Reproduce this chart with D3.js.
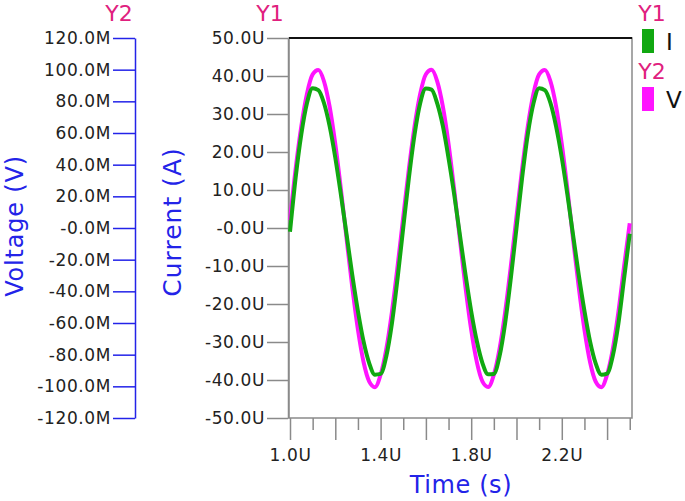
<!DOCTYPE html>
<html>
<head>
<meta charset="utf-8">
<script src="https://cdn.jsdelivr.net/npm/d3@7"></script>
<style>
body { margin: 0; background: #fff; }
svg { font-family: "DejaVu Sans", Verdana, sans-serif; }
</style>
</head>
<body>
<div id="container"></div>
<script>
"use strict";

const width = 685;
const height = 501;

// sample times, in U (micro seconds)
const sampleTimes = [
    1.000, 1.025, 1.050, 1.075, 1.100, 1.125, 1.150, 1.175, 1.200, 1.225,
    1.250, 1.275, 1.300, 1.325, 1.350, 1.375, 1.400, 1.425, 1.450, 1.475,
    1.500, 1.525, 1.550, 1.575, 1.600, 1.625, 1.650, 1.675, 1.700, 1.725,
    1.750, 1.775, 1.800, 1.825, 1.850, 1.875, 1.900, 1.925, 1.950, 1.975,
    2.000, 2.025, 2.050, 2.075, 2.100, 2.125, 2.150, 2.175, 2.200, 2.225,
    2.250, 2.275, 2.300, 2.325, 2.350, 2.375, 2.400, 2.425, 2.450, 2.475,
    2.500
];

// I (U)
const currentValues = [
    -1.0, 13.3, 24.7, 32.9, 36.8, 36.3, 32.9, 26.8, 18.5, 8.7,
    -1.8, -12.4, -21.9, -29.9, -35.6, -38.6, -38.4, -33.8, -25.1, -13.2,
    0.1, 13.2, 24.6, 32.9, 36.7, 36.4, 32.8, 26.8, 18.4, 8.8,
    -1.8, -12.3, -21.9, -29.8, -35.6, -38.5, -38.4, -33.8, -25.0, -13.2,
    0.0, 13.3, 24.7, 32.8, 36.8, 36.3, 32.9, 26.7, 18.5, 8.7,
    -1.9, -12.4, -21.8, -29.9, -35.7, -38.6, -38.3, -33.7, -25.1, -13.3,
    -1.5
];

// V (M)
const voltageValues = [
    5, 37.5, 64.3, 84.8, 97.0, 99.8, 92.7, 76.6, 53.0, 24.2,
    -7.0, -37.5, -64.3, -84.8, -97.0, -100.5, -92.7, -76.6, -53.0, -24.2,
    7.0, 37.4, 64.2, 84.8, 97.1, 99.9, 92.6, 76.6, 53.1, 24.1,
    -7.0, -37.6, -64.3, -84.7, -97.0, -100.4, -92.7, -76.5, -53.0, -24.2,
    7.1, 37.5, 64.3, 84.9, 97.0, 99.8, 92.7, 76.7, 53.0, 24.2,
    -7.1, -37.5, -64.2, -84.8, -97.1, -100.5, -92.6, -76.6, -53.1, -24.3,
    3
];

// axis ticks
const y2Ticks = [120, 100, 80, 60, 40, 20, 0, -20, -40, -60, -80, -100, -120];
const y2TickLabels = ["120.0M", "100.0M", "80.0M", "60.0M", "40.0M", "20.0M", "-0.0M",
    "-20.0M", "-40.0M", "-60.0M", "-80.0M", "-100.0M", "-120.0M"];
const y1Ticks = [50, 40, 30, 20, 10, 0, -10, -20, -30, -40, -50];
const y1TickLabels = ["50.0U", "40.0U", "30.0U", "20.0U", "10.0U", "-0.0U",
    "-10.0U", "-20.0U", "-30.0U", "-40.0U", "-50.0U"];
const xMajorTicks = [1.0, 1.2, 1.4, 1.6, 1.8, 2.0, 2.2, 2.4];
const xMajorLabels = ["1.0U", "", "1.4U", "", "1.8U", "", "2.2U", ""];
const xMinorTicks = [1.1, 1.3, 1.5, 1.7, 1.9, 2.1, 2.3, 2.5];

const legendNames = ["I", "V"];
const legendAxes = ["Y1", "Y2"];

const green = "#11a811";
const magenta = "#ff14ff";
const pink = "#e0207e";
const blue = "#2323e8";
const gray = "#8a8a8a";
const tickFont = "17px";

let svg;

function initialize() {
    svg = d3.select("#container").append("svg")
        .attr("width", width)
        .attr("height", height);

    const x = d3.scaleLinear().domain([1.0, 2.51]).range([290, 632]);
    const y1 = d3.scaleLinear().domain([-50, 50]).range([418, 38]);
    const y2 = d3.scaleLinear().domain([-120, 120]).range([418, 38]);

    // plot frame
    svg.append("rect")
        .attr("x", 289).attr("y", 38)
        .attr("width", 343).attr("height", 380)
        .style("fill", "none").style("stroke", gray).style("stroke-width", 1.5);
    svg.append("line")
        .attr("x1", 289).attr("x2", 632).attr("y1", 38).attr("y2", 38)
        .style("stroke", "#111").style("stroke-width", 2);

    // Y2 axis (voltage)
    let g2 = svg.append("g")
        .attr("transform", "translate(135,0)")
        .call(d3.axisLeft(y2).tickValues(y2Ticks)
            .tickFormat((d, i) => y2TickLabels[i])
            .tickSize(22).tickSizeOuter(0).tickPadding(2));
    styleAxis(g2, blue);

    // Y1 axis (current)
    let g1 = svg.append("g")
        .attr("transform", "translate(288,0)")
        .call(d3.axisLeft(y1).tickValues(y1Ticks)
            .tickFormat((d, i) => y1TickLabels[i])
            .tickSize(21).tickSizeOuter(0).tickPadding(2));
    styleAxis(g1, gray);

    // X axis
    let gx = svg.append("g")
        .attr("transform", "translate(0,418)")
        .call(d3.axisBottom(x).tickValues(xMajorTicks)
            .tickFormat((d, i) => xMajorLabels[i])
            .tickSize(22).tickSizeOuter(0).tickPadding(7));
    styleAxis(gx, gray);
    gx.select(".domain").remove();
    gx.selectAll("text").attr("dy", "0.85em");

    let gm = svg.append("g")
        .attr("transform", "translate(0,418)")
        .call(d3.axisBottom(x).tickValues(xMinorTicks)
            .tickFormat("").tickSize(12).tickSizeOuter(0));
    styleAxis(gm, gray);
    gm.select(".domain").remove();

    // traces, V under I
    const lineV = d3.line()
        .x((d, i) => x(sampleTimes[i]))
        .y(d => y2(d))
        .curve(d3.curveMonotoneX);
    const lineI = d3.line()
        .x((d, i) => x(sampleTimes[i]))
        .y(d => y1(d))
        .curve(d3.curveMonotoneX);

    svg.append("path")
        .datum(voltageValues)
        .attr("d", lineV)
        .style("fill", "none").style("stroke", magenta).style("stroke-width", 4);
    svg.append("path")
        .datum(currentValues)
        .attr("d", lineI)
        .style("fill", "none").style("stroke", green).style("stroke-width", 4);

    // axis headers
    svg.append("text").attr("x", 119).attr("y", 21)
        .attr("text-anchor", "middle").style("font-size", "22px").style("fill", pink).text("Y2");
    svg.append("text").attr("x", 270).attr("y", 21)
        .attr("text-anchor", "middle").style("font-size", "22px").style("fill", pink).text("Y1");

    // axis titles
    svg.append("text")
        .attr("transform", "translate(23,226) rotate(-90)")
        .attr("text-anchor", "middle")
        .style("font-size", "24px").style("letter-spacing", "0.8px").style("fill", blue)
        .text("Voltage (V)");
    svg.append("text")
        .attr("transform", "translate(181,222) rotate(-90)")
        .attr("text-anchor", "middle")
        .style("font-size", "25px").style("letter-spacing", "1px").style("fill", blue)
        .text("Current (A)");
    svg.append("text")
        .attr("x", 461).attr("y", 493)
        .attr("text-anchor", "middle")
        .style("font-size", "24px").style("letter-spacing", "0.6px").style("fill", blue)
        .text("Time (s)");

    // legend
    const legendColors = [green, magenta];
    legendNames.forEach((name, i) => {
        let top = i * 58;
        svg.append("text").attr("x", 652).attr("y", top + 21)
            .attr("text-anchor", "middle").style("font-size", "22px").style("fill", pink)
            .text(legendAxes[i]);
        svg.append("rect").attr("x", 642).attr("y", top + 29)
            .attr("width", 12).attr("height", 24)
            .style("fill", legendColors[i]);
        svg.append("text").attr("x", 666).attr("y", top + 50)
            .style("font-size", "23px").style("fill", "#111")
            .text(name);
    });
}

function styleAxis(g, color) {
    g.select(".domain").style("stroke", color).style("stroke-width", 1.5);
    g.selectAll(".tick line").style("stroke", color).style("stroke-width", 1.5);
    g.selectAll(".tick text")
        .style("font-size", tickFont)
        .style("letter-spacing", "0.6px")
        .style("fill", "#222")
        .style("font-family", "'DejaVu Sans', Verdana, sans-serif");
}

window.onload = initialize
</script>
</body>
</html>
